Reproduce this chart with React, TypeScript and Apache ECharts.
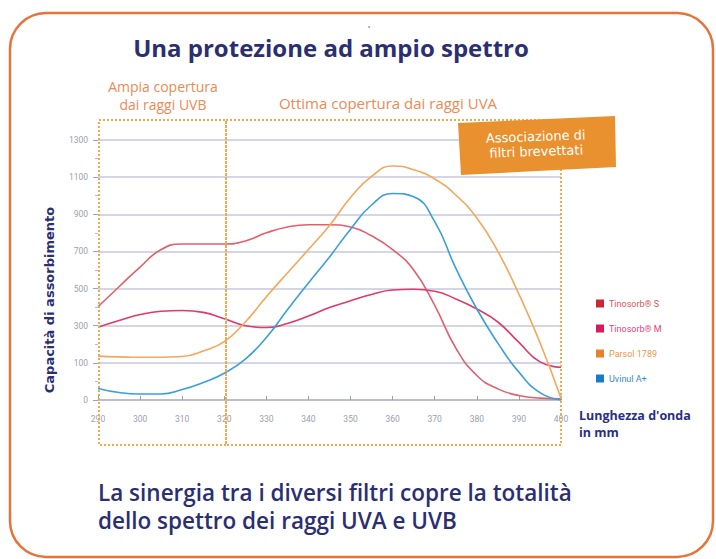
import React, { useEffect, useRef } from "react";
import * as echarts from "echarts";

const yTickLabels = ["0", "100", "300", "500", "700", "900", "1100", "1300"];
const legendNames = ["Tinosorb\u00ae S", "Tinosorb\u00ae M", "Parsol 1789", "Uvinul A+"];

// wavelengths (nm) at which the curves were read
const wavelengths = [
  290, 295, 300, 305, 310, 315, 320, 325, 330, 335, 340, 345,
  350, 355, 360, 365, 370, 375, 380, 385, 390, 395, 400,
];
// absorption as labelled on the axis
const tinosorbS = [
  402, 510, 616, 710, 740, 740, 740, 756, 800, 832, 844, 844,
  832, 784, 710, 600, 410, 180, 66, 30, 12, 5, 3,
];
const tinosorbM = [
  292, 328, 360, 378, 382, 372, 338, 300, 290, 312, 352, 398,
  434, 468, 492, 496, 486, 444, 390, 320, 210, 105, 88,
];
const parsol = [
  136, 132, 130, 130, 134, 164, 214, 320, 456, 584, 710, 840,
  990, 1104, 1160, 1140, 1090, 1004, 880, 700, 470, 210, 5,
];
const uvinul = [
  31, 20, 16, 16, 28, 47, 72, 120, 236, 386, 530, 670,
  820, 950, 1012, 994, 860, 610, 390, 206, 75, 20, 0,
];

const lineColors = ["#e2606c", "#df3a6c", "#f5a65a", "#3a9fdc"];
const legendSquare = ["#c8283a", "#d81b5e", "#e8822a", "#1a7cc8"];
const legendText = ["#d95560", "#e0457a", "#f09545", "#3a88d0"];

// axis label positions are evenly spaced: 0,100,300,...,1300
const toAxis = (v: number) => (v <= 100 ? v / 100 : 1 + (v - 100) / 200);

const navy = "#2b2f72";
const orangeText = "#ec8a55";
const dotted = "#f2a94e";

export default function App() {
  const ref = useRef<HTMLDivElement>(null);
  useEffect(() => {
    const chart = echarts.init(ref.current!, null, { renderer: "svg" });
    const seriesData = [tinosorbS, tinosorbM, parsol, uvinul];
    const option: any = {
      animation: false,
      backgroundColor: "#ffffff",
      grid: { left: 98, right: 155, top: 140, bottom: 159, containLabel: false },
      xAxis: {
        type: "value",
        min: 290,
        max: 400,
        interval: 10,
        axisLine: { show: true, lineStyle: { color: "#b4b6c8", width: 1.5 } },
        axisTick: { show: true, inside: true, length: 4, lineStyle: { color: "#9a9cb0" } },
        splitLine: { show: false },
        axisLabel: { color: "#9c9eae", fontSize: 8.5, margin: 14, fontFamily: "Roboto" },
      },
      yAxis: {
        type: "value",
        min: 0,
        max: 7,
        interval: 1,
        axisLine: { show: false },
        axisTick: { show: true, length: 5, lineStyle: { color: "#a0a2b4" } },
        minorTick: { show: true, splitNumber: 2, length: 3, lineStyle: { color: "#b8bac8" } },
        splitLine: { show: true, lineStyle: { color: "#c6c9dc", width: 1.6 } },
        axisLabel: {
          color: "#9c9eae",
          fontSize: 8.5,
          margin: 10,
          fontFamily: "Roboto",
          formatter: (v: number) => yTickLabels[Math.round(v)] ?? "",
        },
      },
      legend: {
        orient: "vertical",
        left: 591,
        top: 294,
        itemWidth: 8,
        itemHeight: 8,
        itemGap: 16,
        icon: "rect",
        textStyle: { fontSize: 9, fontFamily: "Roboto" },
        data: legendNames.map((n, i) => ({
          name: n,
          itemStyle: { color: legendSquare[i] },
          textStyle: { color: legendText[i], fontSize: 9 },
        })),
      },
      series: seriesData.map((d, i) => ({
        name: legendNames[i],
        type: "line",
        smooth: 0.5,
        showSymbol: false,
        symbol: "none",
        lineStyle: { color: lineColors[i], width: 1.6 },
        itemStyle: { color: lineColors[i] },
        data: d.map((y, k) => [wavelengths[k], toAxis(y)]),
        z: 3,
      })),
      graphic: [
        {
          type: "rect",
          shape: { x: 10, y: 13, width: 703, height: 544, r: 36 },
          style: { fill: "none", stroke: "#e8733a", lineWidth: 2.5 },
          silent: true,
        },
        { type: "circle", shape: { cx: 369, cy: 27, r: 0.8 }, style: { fill: "#888" } },
        {
          type: "text",
          x: 331,
          y: 47,
          style: {
            text: "Una protezione ad ampio spettro",
            fill: navy,
            font: "bold 24px 'Open Sans'",
            align: "center",
            verticalAlign: "middle",
          },
        },
        {
          type: "text",
          x: 163,
          y: 86,
          style: {
            text: "Ampia copertura",
            fill: orangeText,
            font: "14px 'Open Sans'",
            align: "center",
            verticalAlign: "middle",
          },
        },
        {
          type: "text",
          x: 163,
          y: 104,
          style: {
            text: "dai raggi UVB",
            fill: orangeText,
            font: "14px 'Open Sans'",
            align: "center",
            verticalAlign: "middle",
          },
        },
        {
          type: "text",
          x: 388,
          y: 103,
          style: {
            text: "Ottima copertura dai raggi UVA",
            fill: orangeText,
            font: "15px 'Open Sans'",
            align: "center",
            verticalAlign: "middle",
          },
        },
        {
          type: "rect",
          shape: { x: 99, y: 120, width: 127, height: 325 },
          style: { fill: "none", stroke: dotted, lineWidth: 2, lineDash: [2, 2] },
          z: 10,
        },
        {
          type: "rect",
          shape: { x: 226, y: 120, width: 335, height: 325 },
          style: { fill: "none", stroke: dotted, lineWidth: 2, lineDash: [2, 2] },
          z: 10,
        },
        {
          type: "polygon",
          shape: { points: [[458, 123], [615, 116], [616, 167], [461, 175]] },
          style: { fill: "#e8912e" },
          z: 11,
        },
        {
          type: "text",
          x: 536,
          y: 144,
          rotation: 0.035,
          style: {
            text: "Associazione di\nfiltri brevettati",
            fill: "#ffffff",
            font: "13px 'DejaVu Sans'",
            align: "center",
            verticalAlign: "middle",
            lineHeight: 15,
          },
          z: 12,
        },
        {
          type: "text",
          x: 49,
          y: 300,
          rotation: Math.PI / 2,
          style: {
            text: "Capacità di assorbimento",
            fill: navy,
            font: "bold 13px 'DejaVu Sans'",
            align: "center",
            verticalAlign: "middle",
          },
        },
        {
          type: "text",
          x: 579,
          y: 424,
          style: {
            text: "Lunghezza d'onda\nin mm",
            fill: "#2a2f86",
            font: "bold 12.5px 'Open Sans'",
            align: "left",
            verticalAlign: "middle",
            lineHeight: 17,
          },
        },
        {
          type: "text",
          x: 98,
          y: 506,
          style: {
            text: "La sinergia tra i diversi filtri copre la totalità\ndello spettro dei raggi UVA e UVB",
            fill: navy,
            font: "600 22.5px 'Open Sans'",
            align: "left",
            verticalAlign: "middle",
            lineHeight: 28,
          },
        },
      ],
    };
    chart.setOption(option);
    return () => chart.dispose();
  }, []);
  return (
    <div
      ref={ref}
      style={{ position: "absolute", left: 0, top: 0, width: 716, height: 559 }}
    />
  );
}
